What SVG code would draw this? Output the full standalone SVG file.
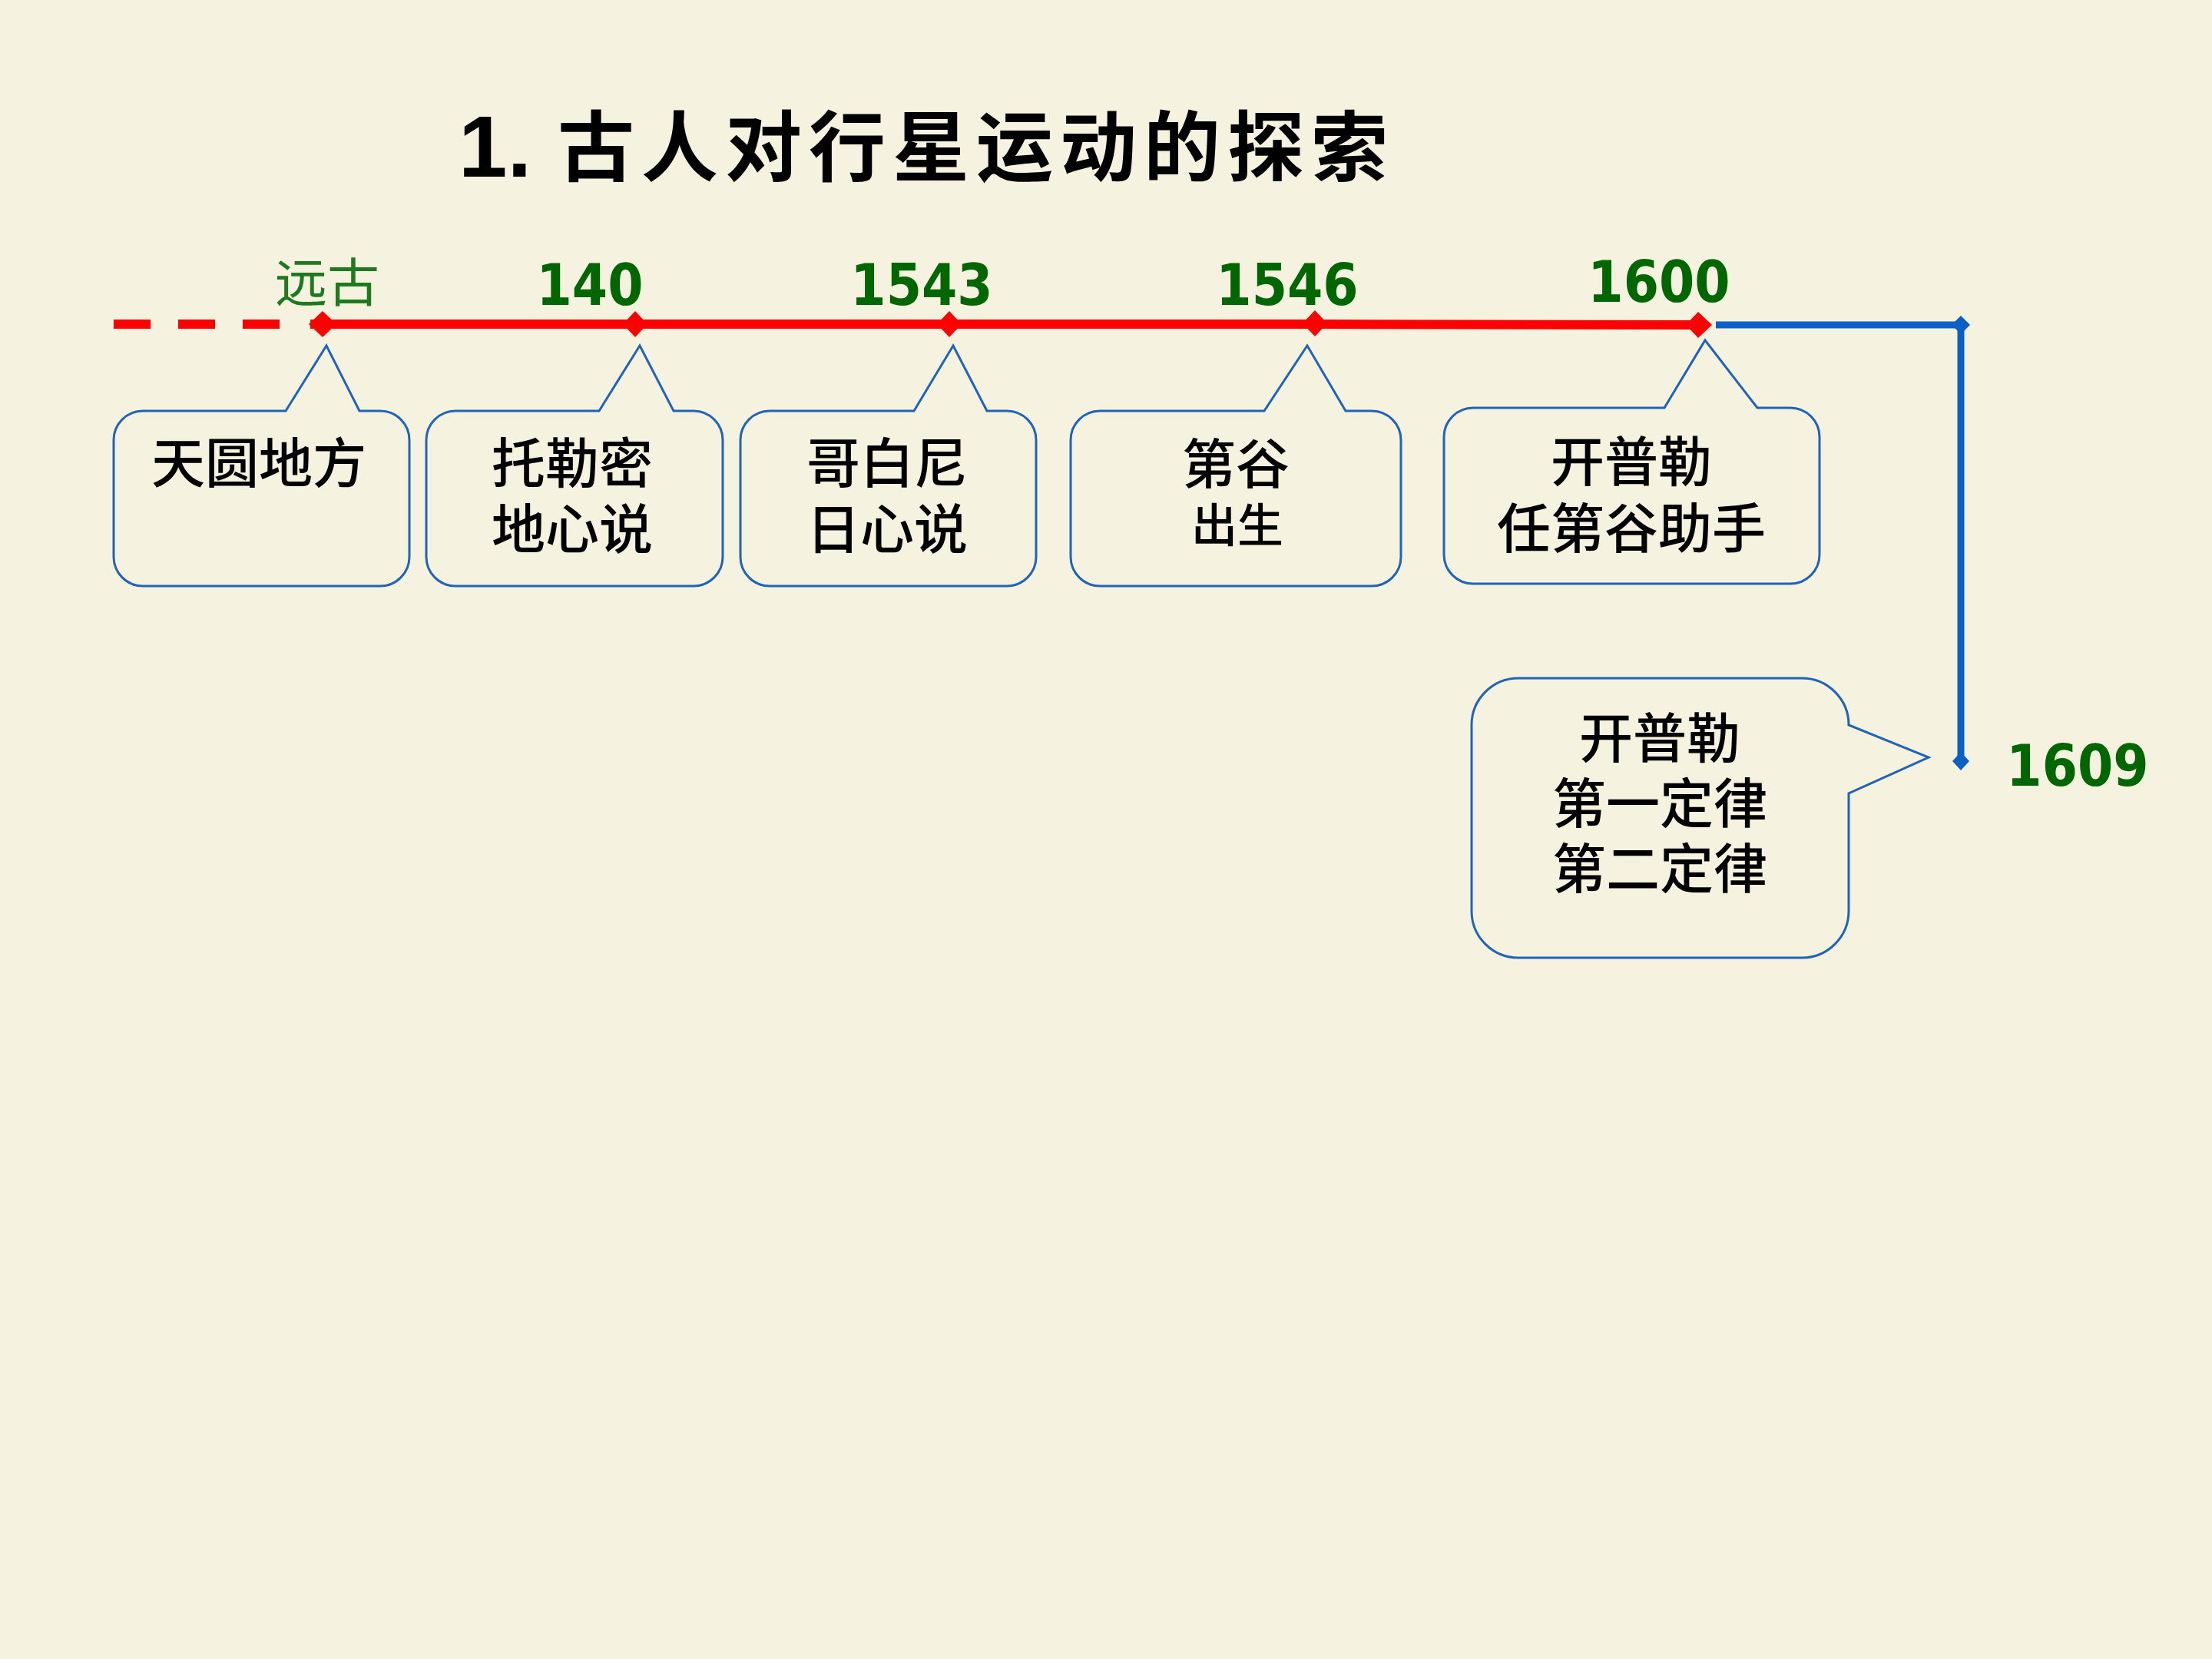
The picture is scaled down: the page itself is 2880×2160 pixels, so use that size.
<svg xmlns="http://www.w3.org/2000/svg" width="2880" height="2160" viewBox="0 0 2880 2160">
<style>
.bg{fill:#F5F2E0}
.title{font-family:"Noto Sans CJK SC","Noto Sans",sans-serif;font-weight:700;font-size:100px;fill:#000;letter-spacing:9px}
.title1{font-family:"Liberation Sans",Arial,sans-serif;font-weight:700;font-size:114px;fill:#000}
.year{font-family:"DejaVu Sans Condensed","DejaVu Sans",sans-serif;font-weight:700;font-size:74px;fill:#006600;text-anchor:middle}
.era{font-family:"Noto Sans CJK SC",sans-serif;font-size:68px;fill:#1f7a1f;text-anchor:middle}
.box{fill:none;stroke:#1F64B8;stroke-width:3}
.lbl{font-family:"Noto Sans CJK SC",sans-serif;font-weight:500;font-size:70px;fill:#000;text-anchor:middle}
.red{stroke:#FF0000;stroke-width:12;fill:none}
.blue{stroke:#0A60C4;stroke-width:9;fill:none}
.rd{fill:#FF0000}
.bd{fill:#0A60C4}
</style>
<rect class="bg" x="0" y="0" width="2880" height="2160"/>

<g id="title">
<text class="title1" x="597" y="230">1.</text>
<text class="title" x="726" y="228">古人对行星运动的探索</text>
</g>

<g id="connectors">
<line class="red" x1="148" y1="422" x2="364" y2="422" stroke-dasharray="48 36"/>
<polyline class="red" points="404,422 1712,422 2205,423"/>
<polygon class="rd" points="402,422 420,405 438,422 420,439"/>
<polygon class="rd" points="811,422 827,405 843,422 827,439"/>
<polygon class="rd" points="1220,422 1236,405 1252,422 1236,439"/>
<polygon class="rd" points="1696,421 1712,404 1728,421 1712,438"/>
<polygon class="rd" points="2195,423 2211,406 2229,423 2211,440"/>
<polyline class="blue" points="2234,423 2553,423 2553,988"/>
<polygon class="bd" points="2541,423 2553,411 2565,423 2553,435"/>
<polygon class="bd" points="2542,991 2553,979 2564,991 2553,1003"/>
</g>

<g id="years">
<text class="era" x="426" y="393">远古</text>
<text class="year" x="768" y="397">140</text>
<text class="year" x="1200" y="397">1543</text>
<text class="year" x="1676" y="397">1546</text>
<text class="year" x="2160" y="393">1600</text>
<text class="year" x="2705" y="1023">1609</text>
</g>

<g id="node1">
<path class="box" d="M186,535 L372,535 L425,450 L468,535 L495,535 A38 38 0 0 1 533,573 L533,725 A38 38 0 0 1 495,763 L186,763 A38 38 0 0 1 148,725 L148,573 A38 38 0 0 1 186,535 Z"/>
<text class="lbl" x="337" y="629">天圆地方</text>
</g>

<g id="node2">
<path class="box" d="M593,535 L780,535 L833,450 L877,535 L903,535 A38 38 0 0 1 941,573 L941,725 A38 38 0 0 1 903,763 L593,763 A38 38 0 0 1 555,725 L555,573 A38 38 0 0 1 593,535 Z"/>
<text class="lbl" x="745" y="629">托勒密</text>
<text class="lbl" x="745" y="715">地心说</text>
</g>

<g id="node3">
<path class="box" d="M1002,535 L1190,535 L1241,450 L1285,535 L1311,535 A38 38 0 0 1 1349,573 L1349,725 A38 38 0 0 1 1311,763 L1002,763 A38 38 0 0 1 964,725 L964,573 A38 38 0 0 1 1002,535 Z"/>
<text class="lbl" x="1155" y="629">哥白尼</text>
<text class="lbl" x="1155" y="715">日心说</text>
</g>

<g id="node4">
<path class="box" d="M1432,535 L1646,535 L1702,450 L1752,535 L1786,535 A38 38 0 0 1 1824,573 L1824,725 A38 38 0 0 1 1786,763 L1432,763 A38 38 0 0 1 1394,725 L1394,573 A38 38 0 0 1 1432,535 Z"/>
<text class="lbl" x="1609" y="630">第谷</text>
<text class="lbl" x="1611" y="706" style="font-size:60px">出生</text>
</g>

<g id="node5">
<path class="box" d="M1918,531 L2167,531 L2220,443 L2288,531 L2331,531 A38 38 0 0 1 2369,569 L2369,722 A38 38 0 0 1 2331,760 L1918,760 A38 38 0 0 1 1880,722 L1880,569 A38 38 0 0 1 1918,531 Z"/>
<text class="lbl" x="2124" y="627">开普勒</text>
<text class="lbl" x="2124" y="714">任第谷助手</text>
</g>

<g id="node6">
<path class="box" d="M1977,883 L2346,883 A61 61 0 0 1 2407,944 L2511,986 L2407,1033 L2407,1186 A61 61 0 0 1 2346,1247 L1977,1247 A61 61 0 0 1 1916,1186 L1916,944 A61 61 0 0 1 1977,883 Z"/>
<text class="lbl" x="2161" y="987">开普勒</text>
<text class="lbl" x="2161" y="1072">第一定律</text>
<text class="lbl" x="2161" y="1157">第二定律</text>
</g>
</svg>
